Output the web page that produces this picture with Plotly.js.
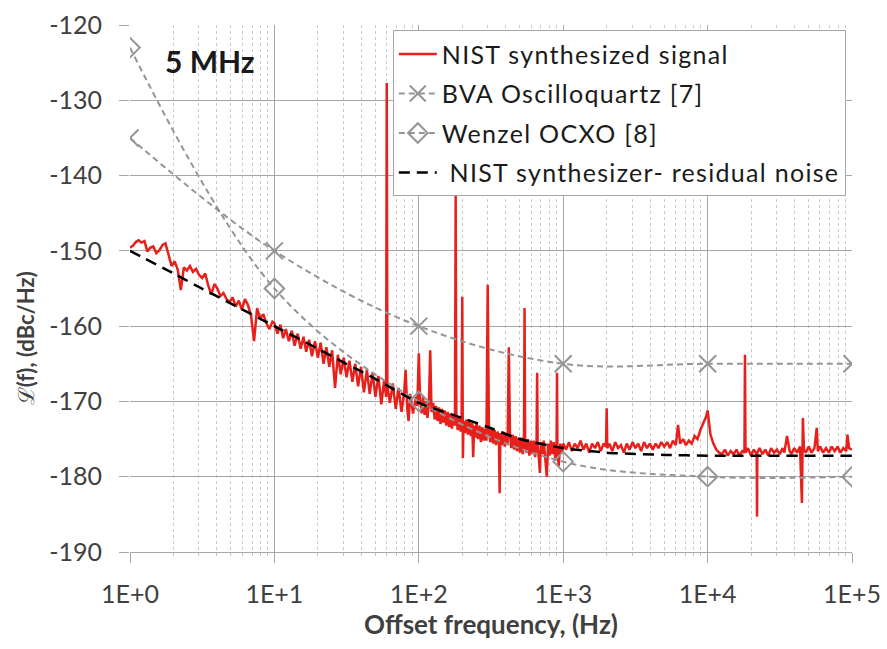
<!DOCTYPE html>
<html>
<head>
<meta charset="utf-8">
<script src="https://cdn.plot.ly/plotly-3.0.1.min.js"></script>
<style>
html,body{margin:0;padding:0;background:#fff;}
#chart{width:887px;height:649px;}
text.legendtext{letter-spacing:1.3px;}
</style>
</head>
<body>
<div id="chart"></div>
<script>
// ---- axis ticks ----
const xTickVals = [1, 10, 100, 1000, 10000, 100000];
const xTickText = ['1E+0', '1E+1', '1E+2', '1E+3', '1E+4', '1E+5'];
const xMinorVals = [2,3,4,5,6,7,8,9, 20,30,40,50,60,70,80,90, 200,300,400,500,600,700,800,900,
                    2000,3000,4000,5000,6000,7000,8000,9000, 20000,30000,40000,50000,60000,70000,80000,90000];
const yTickVals = [-190, -180, -170, -160, -150, -140, -130, -120];
const yTickText = ['-190', '-180', '-170', '-160', '-150', '-140', '-130', '-120'];

// ---- reference oscillators ----
const refFreq = [1, 10, 100, 1000, 10000, 100000];
const bvaLevel = [-135, -150, -160, -165, -165, -165];
const wenzelLevel = [-123, -155, -170, -178, -180, -180];

// ---- residual noise (black dashed) ----
const resFreq = [1, 2, 3, 5, 10, 20, 30, 50, 100, 200, 300, 500, 1000, 2000, 5000, 10000, 100000];
const resLevel = [-150, -153, -154.8, -157, -160, -163, -164.8, -167, -170.2, -172.2, -173.4, -175.0, -176.2, -176.8, -177.1, -177.2, -177.2];

// ---- NIST synthesized signal, read decade by decade ----
const sigFreqD1 = [1,1.05,1.1,1.15,1.2,1.26,1.32,1.38,1.45,1.52,1.6,1.68,1.76,1.85,1.94,2.04,2.14,2.25,2.36,2.48,2.6,2.73,2.87,3.01,3.16,3.32,3.48,3.66,3.84,4.03,4.23,4.44,4.66,4.9,5.14,5.4,5.67,5.95,6.25,6.56,6.89,7.23,7.59,7.97,8.37,8.79,9.23,9.69];
const sigLevelD1 = [-149.6,-149.3,-148.8,-148.6,-148.9,-148.7,-150.1,-149.6,-149.4,-150.3,-149.9,-149.2,-149.0,-150.6,-152.0,-151.4,-152.5,-155.2,-152.2,-152.6,-152.0,-152.8,-152.4,-153.2,-153.6,-153.0,-154.6,-155.8,-154.4,-155.0,-156.0,-155.6,-156.4,-156.8,-156.2,-157.4,-156.6,-157.8,-156.4,-157.2,-158.6,-162.0,-157.6,-159.0,-158.4,-159.6,-160.4,-159.4];

const sigFreqD2 = [10,10.5,11,11.5,12,12.6,13.2,13.8,14.5,15.2,15.9,16.6,17.4,18.2,19.1,20,20.9,21.9,22.9,24,25.1,26.3,27.5,28.8,30.2,31.6,33.1,34.7,36.3,38,39.8,41.7,43.7,45.7,47.9,50.1,52.5,55,57.5,59.4,60,60.6,63.1,66.1,69.2,72.4,75.9,79.4,81,83.2,85,87.1,91.2,95.5];
const sigLevelD2 = [-159.6,-161.0,-159.8,-161.6,-160.4,-162.0,-160.6,-162.6,-161.0,-163.0,-161.4,-163.4,-161.8,-164.0,-162.0,-164.2,-162.2,-165.0,-162.8,-165.4,-163.2,-168.2,-163.8,-166.4,-164.2,-166.8,-164.6,-167.4,-165.0,-168.0,-165.4,-168.8,-165.8,-169.0,-166.2,-169.4,-166.6,-170.4,-167.2,-169.4,-127.7,-168.0,-170.2,-167.6,-171.0,-168.2,-171.4,-168.6,-165.8,-171.0,-172.6,-169.0,-171.6,-169.4];

const sigFreqD3 = [97.7,100,102,104.7,107.2,109.6,112.2,114.8,117.5,120,122.5,125.9,128.8,131.8,134.9,138,141.3,144.5,147.9,151.4,154.9,158.5,162.2,166,169.8,173.8,178,180,182,186.2,190.5,195,198,200,202,204,208.9,213.8,218.8,223.9,229.1,234.4,238,242,245.5,251.2,257,263,269.2,275.4,281.8,288.4,294,300,306,313,320,327.6,335,342.8,350.8,358.9,363,367.3,375.8,384.6,393.6,402.7,412,420,428,436.5,446.7,457,467.7,478.6,489.8,501.2,512.9,524.8,535,540,545,556.6,569.6,582.9,596.4,610.2,624.5,639.1,654,660,666,676,690,700,716,733,750,770,786,804,822,841,861,881,900,906,912,930,955,977];
const sigLevelD3 = [-170.6,-163.6,-169.6,-171.6,-169.4,-171.8,-170.0,-172.2,-170.2,-163.2,-171.4,-170.2,-172.4,-170.6,-172.6,-170.8,-173.0,-171.0,-172.8,-171.2,-173.2,-171.4,-173.4,-171.6,-173.6,-171.8,-173.2,-142.6,-172.2,-173.8,-172.0,-174.0,-172.4,-156.1,-177.5,-172.6,-174.2,-172.4,-174.4,-172.6,-174.6,-172.8,-177.4,-173.2,-174.8,-173.0,-175.0,-173.2,-175.4,-173.4,-175.2,-173.6,-175.2,-154.5,-174.0,-175.4,-173.6,-175.6,-173.8,-175.8,-174.0,-175.4,-182.2,-174.2,-175.8,-174.0,-176.0,-174.2,-175.8,-162.8,-174.4,-176.2,-174.4,-176.4,-174.6,-176.6,-174.8,-176.8,-174.8,-177.0,-175.0,-157.6,-175.8,-176.8,-175.0,-177.2,-175.2,-177.0,-175.2,-177.4,-175.4,-166.2,-176.2,-177.2,-179.5,-175.4,-177.0,-175.2,-177.4,-180.0,-175.6,-177.2,-175.2,-177.0,-175.4,-177.6,-175.6,-166.2,-176.4,-178.6,-175.6,-176.8];

const sigFreqD4 = [1000,1047,1096,1148,1202,1259,1318,1380,1445,1514,1585,1660,1738,1820,1905,1980,2000,2020,2089,2188,2291,2399,2512,2630,2754,2884,3020,3162,3311,3467,3631,3802,3981,4169,4365,4571,4786,5012,5248,5495,5754,6026,6240,6457,6761,7079,7413,7762,8128,8511,8913,9333,9772,10000,10230,10470,10960,11480];
const sigLevelD4 = [-175.6,-176.4,-175.4,-176.6,-175.6,-176.2,-175.2,-176.4,-175.6,-176.8,-175.6,-176.2,-175.4,-176.6,-175.6,-176.0,-170.9,-176.2,-175.6,-176.6,-175.4,-176.2,-175.8,-176.8,-175.6,-176.4,-175.4,-176.2,-175.6,-176.6,-175.4,-176.2,-175.6,-176.4,-175.6,-176.2,-175.4,-176.0,-175.4,-176.2,-175.2,-175.8,-173.1,-175.6,-175.0,-175.8,-175.2,-175.6,-174.6,-175.0,-173.8,-173.0,-172.0,-171.2,-173.0,-174.4,-175.6,-176.4];

const sigFreqD5 = [12020,12590,13180,13800,14450,15140,15850,16600,17380,18000,18150,18300,19050,19950,20890,21880,22000,22100,22910,23990,25120,26300,27540,28840,30200,31620,33110,34000,35480,37000,38020,39810,41690,43650,45000,45700,46500,47860,50120,52480,54950,57000,58000,60260,63100,66070,69180,72440,75860,79430,83180,87100,91200,93000,95500,100000];
const sigLevelD5 = [-176.8,-177.0,-176.4,-177.2,-176.6,-177.0,-176.4,-177.2,-176.6,-176.8,-163.8,-176.8,-176.2,-177.2,-176.4,-177.0,-185.3,-176.8,-176.2,-177.0,-176.4,-177.2,-176.2,-176.8,-176.4,-177.0,-176.2,-176.8,-174.6,-176.6,-177.0,-176.2,-176.8,-176.0,-183.5,-172.2,-176.4,-176.8,-176.0,-176.8,-176.2,-173.5,-176.6,-176.0,-176.8,-176.2,-176.8,-176.0,-176.6,-176.0,-176.8,-176.2,-176.6,-174.4,-176.2,-176.4];

const seriesNames = ['NIST synthesized signal', 'BVA Oscilloquartz [7]', 'Wenzel OCXO [8]', '\u00a0NIST synthesizer- residual noise'];

const sigFreq = [].concat(sigFreqD1, sigFreqD2, sigFreqD3, sigFreqD4, sigFreqD5);
const sigLevel = [].concat(sigLevelD1, sigLevelD2, sigLevelD3, sigLevelD4, sigLevelD5);

const FONT = 'Lato, "Open Sans", sans-serif';
const GRAY = '#959595';

const traces = [
  {x: sigFreq, y: sigLevel, type: 'scatter', mode: 'lines', name: seriesNames[0], legendgroup: 'a',
   line: {color: '#e8201c', width: 2.5}},
  {x: refFreq, y: bvaLevel, type: 'scatter', mode: 'lines+markers', name: seriesNames[1], legendgroup: 'b',
   line: {color: GRAY, width: 2, dash: '6px,4px', shape: 'spline', smoothing: 1},
   marker: {symbol: 'x-thin-open', size: 17, color: GRAY, line: {color: GRAY, width: 2}}},
  {x: refFreq, y: wenzelLevel, type: 'scatter', mode: 'lines+markers', name: seriesNames[2], legendgroup: 'c',
   line: {color: GRAY, width: 2, dash: '6px,4px', shape: 'spline', smoothing: 1},
   marker: {symbol: 'diamond-open', size: 15, color: GRAY, line: {color: GRAY, width: 2}}},
  {x: resFreq, y: resLevel, type: 'scatter', mode: 'lines', name: seriesNames[3], legendgroup: 'd',
   line: {color: '#000000', width: 2.5, dash: '11px,7px', shape: 'spline', smoothing: 0.6}}
];

const layout = {
  width: 887, height: 649,
  margin: {l: 130, r: 35, t: 25, b: 97},
  paper_bgcolor: '#ffffff', plot_bgcolor: '#ffffff',
  font: {family: FONT, color: '#404040'},
  showlegend: true,
  xaxis: {
    type: 'log', range: [0, 5],
    tickmode: 'array', tickvals: xTickVals, ticktext: xTickText,
    tickfont: {family: FONT, size: 25, color: '#404040'},
    ticks: 'outside', ticklen: 10, tickcolor: '#a6a6a6', tickwidth: 1,
    ticklabelstandoff: 10,
    showgrid: true, gridcolor: '#a6a6a6', gridwidth: 1,
    minor: {tickmode: 'array', tickvals: xMinorVals, showgrid: true, gridcolor: '#cccccc', griddash: 'dot', gridwidth: 1,
            ticks: 'outside', ticklen: 3, tickcolor: '#bfbfbf'},
    showline: true, linecolor: '#a6a6a6', linewidth: 1, zeroline: false,
    title: {text: '<b>Offset frequency, (Hz)</b>', font: {family: FONT, size: 26, color: '#404040'}, standoff: 0}
  },
  yaxis: {
    range: [-190, -120],
    tickmode: 'array', tickvals: yTickVals, ticktext: yTickText,
    tickfont: {family: FONT, size: 25, color: '#404040'},
    ticks: 'outside', ticklen: 10, tickcolor: '#a6a6a6', tickwidth: 1,
    ticklabelstandoff: 12,
    showgrid: true, gridcolor: '#a6a6a6', gridwidth: 1,
    showline: false, zeroline: false
  },
  legend: {
    x: 0.364, y: 0.99, xanchor: 'left', yanchor: 'top',
    bgcolor: '#ffffff', bordercolor: '#a6a6a6', borderwidth: 1,
    font: {family: FONT, size: 25, color: '#1a1a1a'},
    itemwidth: 38, tracegroupgap: 4, traceorder: 'grouped'
  },
  annotations: [
    {text: '<b>5 MHz</b>', xref: 'paper', yref: 'paper', x: 0.111, y: 0.932, xanchor: 'center', yanchor: 'middle',
     showarrow: false, font: {family: FONT, size: 30, color: '#1a1a1a'}},
    {text: '\u2112<b>(f), (dBc/Hz)</b>', xref: 'paper', yref: 'paper', x: -0.145, y: 0.406, xanchor: 'center', yanchor: 'middle',
     textangle: -90, showarrow: false, font: {family: FONT, size: 22, color: '#404040'}}
  ]
};

Plotly.newPlot('chart', traces, layout, {staticPlot: true, displayModeBar: false});
</script>
</body>
</html>
